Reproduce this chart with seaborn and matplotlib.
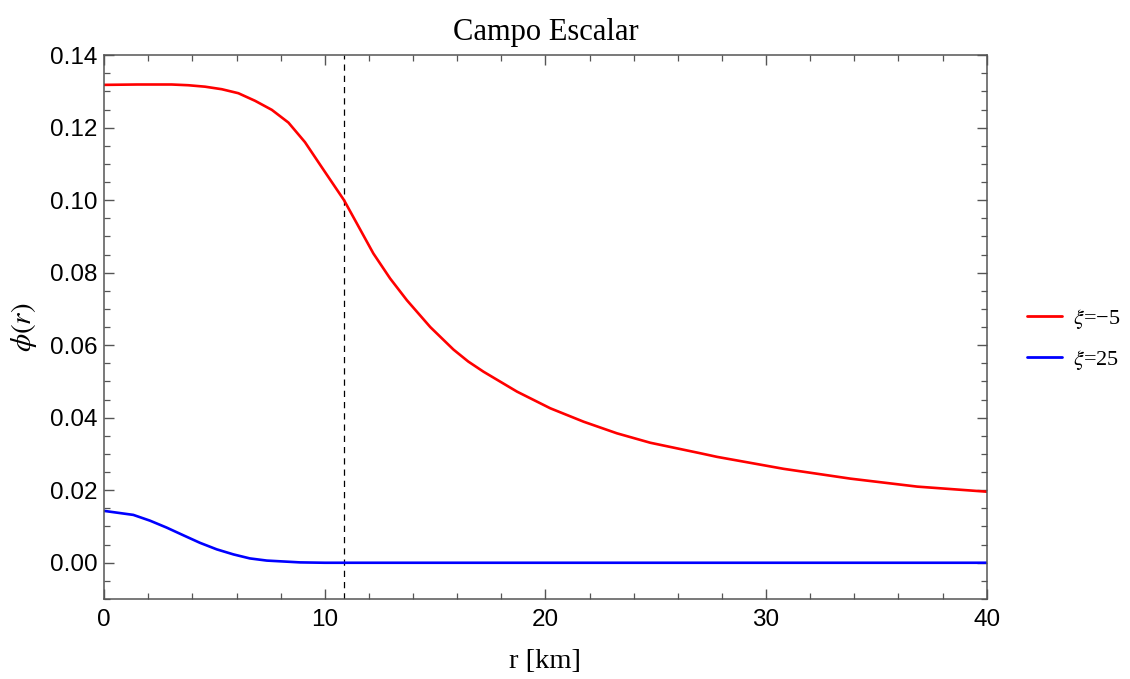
import numpy as np
import pandas as pd
import matplotlib
matplotlib.use("Agg")
import matplotlib.pyplot as plt
import seaborn as sns
from matplotlib.ticker import MultipleLocator

# ---- data ----
r_red = [0.0, 1.5, 3.06, 3.81, 4.57, 5.33, 6.08, 6.84, 7.6, 8.35, 9.1, 9.86, 10.87,
         11.45, 12.2, 12.96, 13.72, 14.78, 15.83, 16.5, 17.19, 18.71, 20.22, 21.73,
         23.24, 24.75, 27.02, 27.78, 30.8, 33.82, 36.85, 40.0]
phi_red = [0.1318, 0.1319, 0.1319, 0.1317, 0.1313, 0.1306, 0.1295, 0.1274, 0.1249,
           0.1214, 0.1160, 0.1091, 0.1000, 0.0936, 0.0853, 0.0784, 0.0724, 0.0650,
           0.0588, 0.0555, 0.0527, 0.0472, 0.0426, 0.0389, 0.0357, 0.0331, 0.0302,
           0.0292, 0.0259, 0.0232, 0.0210, 0.0196]
r_blue = [0.0, 1.32, 2.08, 2.83, 3.58, 4.34, 5.1, 5.86, 6.6, 7.37, 8.88, 10.0, 15.0,
          20.0, 30.0, 40.0]
phi_blue = [0.0143, 0.0132, 0.0116, 0.0097, 0.0076, 0.0055, 0.0037, 0.0023, 0.0012,
            0.0006, 0.0001, 0.0, 0.0, 0.0, 0.0, 0.0]
labels = ["$\\xi$=\u22125", "$\\xi$=25"]
colors = ["#ff0000", "#0000ff"]
r_dashed = 10.87

title = "Campo Escalar"
xlabel = "r [km]"
ylabel = "$\\phi(r)$"

df = pd.concat([
    pd.DataFrame({"r": r_red, "phi": phi_red, "serie": labels[0]}),
    pd.DataFrame({"r": r_blue, "phi": phi_blue, "serie": labels[1]}),
])

sns.set_style("ticks")
plt.rcParams["font.family"] = ["Liberation Sans", "DejaVu Sans"]
plt.rcParams["mathtext.fontset"] = "stix"
plt.rcParams["text.color"] = "black"
plt.rcParams["axes.labelcolor"] = "black"

fig = plt.figure(figsize=(11.3, 6.79), dpi=100)
ax = fig.add_axes([0.0922, 0.1178, 0.781, 0.801])

sns.lineplot(data=df, x="r", y="phi", hue="serie", palette=dict(zip(labels, colors)),
             linewidth=1.9, ax=ax, sort=False, estimator=None, legend=True)
ax.axvline(r_dashed, color="black", linewidth=0.9, linestyle=(0, (5, 4)), zorder=1)

ax.set_xlim(0, 40)
ax.set_ylim(-0.01, 0.14)
ax.xaxis.set_major_locator(MultipleLocator(10))
ax.xaxis.set_minor_locator(MultipleLocator(2))
ax.yaxis.set_minor_locator(MultipleLocator(0.005))
ax.set_yticks([0.0, 0.02, 0.04, 0.06, 0.08, 0.10, 0.12, 0.14])
ax.set_yticklabels(["0.00", "0.02", "0.04", "0.06", "0.08", "0.10", "0.12", "0.14"])

ax.tick_params(which="both", direction="in", top=True, right=True, color="#555555",
               labelsize=17.5, labelcolor="black")
ax.tick_params(which="major", length=7, width=1.0, pad=5)
ax.tick_params(axis="x", which="major", pad=7)
ax.tick_params(which="minor", length=4, width=0.9)
for s in ax.spines.values():
    s.set_color("#555555")
    s.set_linewidth(1.1)

ax.set_title(title, family=["Liberation Serif"], fontsize=22, pad=11, color="black")
ax.set_xlabel(xlabel, family=["Liberation Serif"], fontsize=20.5, labelpad=13)
ax.set_ylabel(ylabel, fontsize=21, labelpad=8)

leg = ax.legend(loc="center left", bbox_to_anchor=(1.036, 0.477), frameon=False,
                borderaxespad=0,
                prop={"family": "Liberation Serif", "size": 16},
                handlelength=1.55, handletextpad=0.5, labelspacing=0.75)
for line in leg.get_lines():
    line.set_linewidth(2.0)

fig.savefig("out.png", dpi=100)
